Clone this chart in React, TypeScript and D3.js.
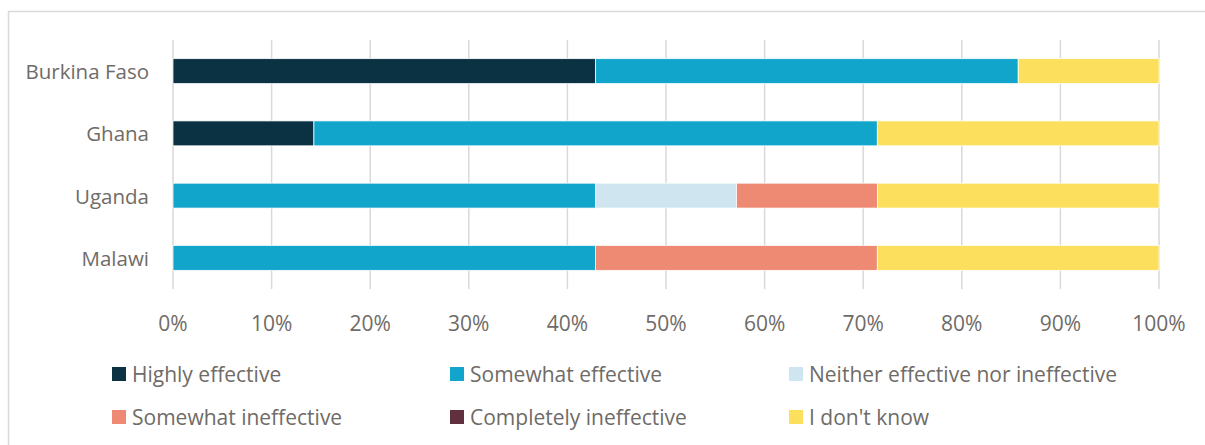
import * as d3 from 'd3';

const countries = ['Burkina Faso', 'Ghana', 'Uganda', 'Malawi'];
const categories = [
  'Highly effective',
  'Somewhat effective',
  'Neither effective nor ineffective',
  'Somewhat ineffective',
  'Completely ineffective',
  "I don't know",
];
const colors = ['#0b3243', '#12a5cc', '#cfe6f0', '#ee8a74', '#61303f', '#fddf5e'];

// shares in %, one array per category, in country order
const highly = [42.86, 14.29, 0, 0];
const somewhat = [42.86, 57.14, 42.86, 42.86];
const neither = [0, 0, 14.29, 0];
const somewhatIneff = [0, 0, 14.29, 28.57];
const completely = [0, 0, 0, 0];
const dontKnow = [14.29, 28.57, 28.57, 28.57];
const series = [highly, somewhat, neither, somewhatIneff, completely, dontKnow];

const xTicks = [0, 10, 20, 30, 40, 50, 60, 70, 80, 90, 100];

const W = 1205;
const H = 445;
const font = '"Open Sans", sans-serif';
const textColor = '#6f6b67';

export default function App() {
  const x = d3.scaleLinear().domain([0, 100]).range([173, 1159]);
  const y = d3.scaleBand().domain(countries).range([40, 289]).paddingInner(0.6).paddingOuter(0.3);

  const rows = countries.map((c, i) => {
    const row: Record<string, number | string> = { country: c };
    categories.forEach((k, j) => (row[k] = series[j][i]));
    return row;
  });
  const stacked = d3.stack<any>().keys(categories)(rows);
  const color = d3.scaleOrdinal<string, string>().domain(categories).range(colors);

  const legendX = [112, 450, 789];
  const legendY = [374, 417];

  return (
    <svg width={W} height={H} style={{ position: 'absolute', left: 0, top: 0 }}>
      <rect x={8.5} y={11.5} width={W} height={H} fill="#fff" stroke="#d9d9d9" strokeWidth={1.5} />
      {xTicks.map((t) => (
        <line key={t} x1={x(t)} x2={x(t)} y1={40} y2={289} stroke="#d9d9d9" strokeWidth={1.5} />
      ))}
      {stacked.map((s) => (
        <g key={s.key} fill={color(s.key)}>
          {s.map((d, i) =>
            d[1] - d[0] > 0 ? (
              <rect
                key={i}
                x={x(d[0])}
                width={x(d[1]) - x(d[0])}
                y={y(countries[i])}
                height={y.bandwidth()}
                stroke="#fff"
                strokeWidth={0.75}
              />
            ) : null
          )}
        </g>
      ))}
      {countries.map((c) => (
        <text
          key={c}
          x={149}
          y={(y(c) ?? 0) + y.bandwidth() / 2}
          textAnchor="end"
          dominantBaseline="central"
          fontFamily={font}
          fontSize={20.5}
          fill={textColor}
        >
          {c}
        </text>
      ))}
      {xTicks.map((t) => (
        <text
          key={t}
          x={x(t)}
          y={323}
          textAnchor="middle"
          dominantBaseline="central"
          fontFamily={font}
          fontSize={21}
          fill={textColor}
        >
          {t}%
        </text>
      ))}
      {categories.map((k, i) => {
        const lx = legendX[i % 3];
        const ly = legendY[Math.floor(i / 3)];
        return (
          <g key={k}>
            <rect x={lx} y={ly - 7} width={14} height={14} fill={color(k)} />
            <text
              x={lx + 20}
              y={ly}
              dominantBaseline="central"
              fontFamily={font}
              fontSize={21}
              fill={textColor}
            >
              {k}
            </text>
          </g>
        );
      })}
    </svg>
  );
}
